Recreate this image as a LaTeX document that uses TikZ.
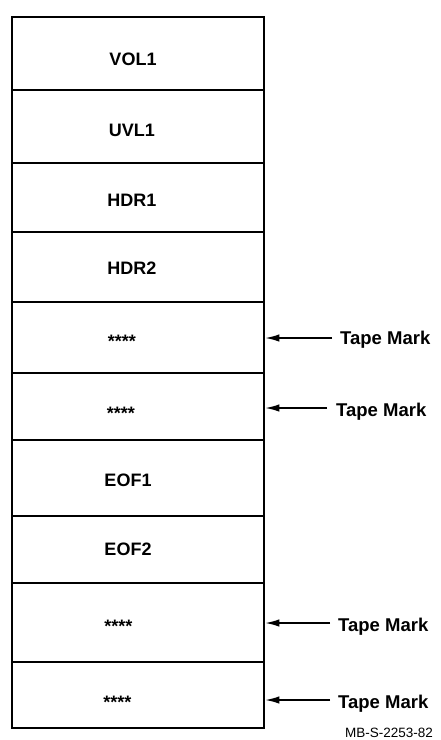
\documentclass[tikz,border=0pt]{standalone}
\usepackage{fontspec}
\setmainfont{Liberation Sans}
\usetikzlibrary{arrows.meta}
\begin{document}
\begin{tikzpicture}[x=1pt,y=-1pt,
  rowbox/.style={draw=black,line width=1.3pt,minimum width=252pt,inner sep=0pt,outer sep=0pt},
  lbl/.style={anchor=base,inner sep=0pt,font=\fontsize{18}{20}\selectfont\bfseries},
  stars/.style={anchor=base,inner sep=0pt,font=\fontsize{18}{20}\selectfont\bfseries},
  tape/.style={anchor=base west,inner sep=0pt,font=\fontsize{18.5}{20}\selectfont\bfseries},
  tmarrow/.style={draw=black,line width=1.4pt,-{Latex[length=14pt,width=7.5pt]}},
  outer/.style={draw=black,line width=2.8pt,line join=round}]
\useasboundingbox[fill=white] (0,0) rectangle (440,740);
% rows
\node[rowbox,minimum height=73pt] (r1) at (138,53.5) {};
\node[rowbox,minimum height=73pt] (r2) at (138,126.5) {};
\node[rowbox,minimum height=69pt] (r3) at (138,197.5) {};
\node[rowbox,minimum height=70pt] (r4) at (138,267) {};
\node[rowbox,minimum height=71pt] (r5) at (138,337.5) {};
\node[rowbox,minimum height=67pt] (r6) at (138,406.5) {};
\node[rowbox,minimum height=76pt] (r7) at (138,478) {};
\node[rowbox,minimum height=67pt] (r8) at (138,549.5) {};
\node[rowbox,minimum height=79pt] (r9) at (138,622.5) {};
\node[rowbox,minimum height=66pt] (r10) at (138,695) {};
\draw[outer] (r1.north west) rectangle (r10.south east);
% labels
\node[lbl] (l1) at (133,65.5) {VOL1};
\node[lbl] (l2) at (132,136.5) {UVL1};
\node[lbl] (l3) at (132,206.5) {HDR1};
\node[lbl] (l4) at (132,274.5) {HDR2};
\node[stars] (l5) at (122,347.3) {****};
\node[stars] (l6) at (121,419.3) {****};
\node[lbl] (l7) at (128,486) {EOF1};
\node[lbl] (l8) at (128,555.5) {EOF2};
\node[stars] (l9) at (118.5,632.3) {****};
\node[stars] (l10) at (117.5,708.3) {****};
% tape marks
\node[tape] (t1) at (340,344.5) {Tape Mark};
\node[tape] (t2) at (336,416.5) {Tape Mark};
\node[tape] (t3) at (338,631.5) {Tape Mark};
\node[tape] (t4) at (338,708.5) {Tape Mark};
\coordinate (a1) at (332,338);
\coordinate (a2) at (327,408);
\coordinate (a3) at (330,623);
\coordinate (a4) at (330,700);
\draw[tmarrow] (a1) -- ([xshift=1.4pt]a1 -| r5.east);
\draw[tmarrow] (a2) -- ([xshift=1.4pt]a2 -| r6.east);
\draw[tmarrow] (a3) -- ([xshift=1.4pt]a3 -| r9.east);
\draw[tmarrow] (a4) -- ([xshift=1.4pt]a4 -| r10.east);
% figure id
\node[anchor=base west,inner sep=0pt,font=\fontsize{13.5}{15}\selectfont] (fid) at (345,737) {MB-S-2253-82};
\end{tikzpicture}
\end{document}
